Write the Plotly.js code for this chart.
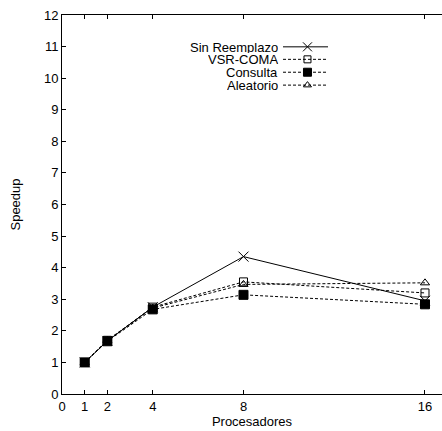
<!DOCTYPE html>
<html><head><meta charset="utf-8">
<script src="https://cdn.plot.ly/plotly-3.0.1.min.js"></script>
<style>html,body{margin:0;padding:0;background:#fff}#c{width:442px;height:431px}</style>
</head><body><div id="c"></div>
<script>
const procesadores = [1, 2, 4, 8, 16];
const sinReemplazo = [1.0, 1.68, 2.75, 4.35, 2.95];
const vsrComa = [1.0, 1.70, 2.75, 3.55, 3.20];
const consulta = [1.0, 1.67, 2.68, 3.14, 2.84];
const aleatorio = [1.0, 1.70, 2.72, 3.47, 3.52];
const seriesNames = ["Sin Reemplazo", "VSR-COMA", "Consulta", "Aleatorio"];
const xTicks = [0, 1, 2, 4, 8, 16];
const yTicks = [0,1,2,3,4,5,6,7,8,9,10,11,12];

const seriesData = [sinReemplazo, vsrComa, consulta, aleatorio];
const styles = [
  {dash: "solid", symbol: "x-thin-open", size: 10, lsize: 9},
  {dash: "3px,2px", symbol: "square-open", size: 8, lsize: 7},
  {dash: "3px,2px", symbol: "square", size: 9, lsize: 8},
  {dash: "3px,2px", symbol: "triangle-up-open", size: 8, lsize: 7}
];
const font = {family: "Liberation Sans, Arial, sans-serif", size: 13, color: "#000"};
const traces = [];
const annotations = [];
const legendRowsY = [0.916, 0.883, 0.849, 0.815];
seriesData.forEach((ys, i) => {
  const st = styles[i];
  traces.push({
    x: procesadores, y: ys, type: "scatter", mode: "lines+markers", name: seriesNames[i],
    line: {color: "#000", width: 1, dash: st.dash},
    marker: {symbol: st.symbol, size: st.size, color: "#000", line: {color: "#000", width: 1}},
    showlegend: false, cliponaxis: false
  });
  // legend sample on overlay axis (paper-like 0..1)
  traces.push({
    x: [0.5816, 0.646, 0.700], y: [legendRowsY[i], legendRowsY[i], legendRowsY[i]],
    xaxis: "x2", yaxis: "y2", type: "scatter", mode: "lines+markers",
    line: {color: "#000", width: 1, dash: st.dash},
    marker: {symbol: st.symbol, size: st.lsize, color: "#000", line: {color: "#000", width: 1},
             opacity: [0, 1, 0]},
    showlegend: false, hoverinfo: "skip"
  });
  annotations.push({
    xref: "x2", yref: "y2", x: 0.571, y: legendRowsY[i], text: seriesNames[i],
    showarrow: false, xanchor: "right", yanchor: "middle", font: font, borderpad: 0,
    height: 12, valign: "middle"
  });
});

const layout = {
  width: 442, height: 431,
  margin: {l: 62, r: 0, t: 15, b: 37, pad: 0},
  paper_bgcolor: "#fff", plot_bgcolor: "#fff",
  font: font,
  showlegend: false,
  xaxis: {
    range: [0, 16.75], tickvals: xTicks, ticktext: xTicks.map(String),
    ticks: "inside", ticklen: 4, tickcolor: "#000", showline: true, linecolor: "#000", linewidth: 1,
    mirror: "ticks", showgrid: false, zeroline: false,
    title: {text: "Procesadores", font: font, standoff: 2}, tickfont: font
  },
  yaxis: {
    range: [0, 12], tickvals: yTicks, ticks: "inside", ticklen: 4, tickcolor: "#000",
    showline: true, linecolor: "#000", linewidth: 1, mirror: false, showgrid: false, zeroline: false,
    title: {text: "Speedup", font: font, standoff: 20}, tickfont: font
  },
  xaxis2: {overlaying: "x", range: [0, 1], visible: false, fixedrange: true},
  yaxis2: {overlaying: "y", range: [0, 1], visible: false, fixedrange: true},
  annotations: annotations
};
Plotly.newPlot("c", traces, layout, {staticPlot: true, displayModeBar: false});
</script></body></html>
